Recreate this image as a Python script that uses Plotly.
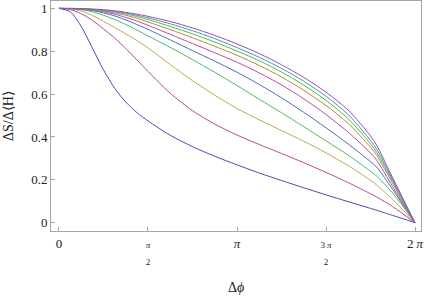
import plotly.graph_objects as go

# Δϕ sample positions (radians)
x_dphi = [0.000, 0.196, 0.393, 0.589, 0.785, 0.982, 1.178, 1.374, 1.571, 1.963, 2.356,
          2.749, 3.142, 3.534, 3.927, 4.320, 4.712, 5.105, 5.498, 5.606, 5.890, 6.283]

# ΔS/Δ<H> for ten curves (bottom to top)
y_c1 = [1.000, 0.985, 0.915, 0.815, 0.713, 0.628, 0.563, 0.514, 0.475, 0.408, 0.355,
        0.310, 0.270, 0.232, 0.197, 0.163, 0.130, 0.098, 0.067, 0.058, 0.034, 0.000]
y_c2 = [1.000, 0.995, 0.975, 0.944, 0.904, 0.862, 0.813, 0.760, 0.706, 0.604, 0.523,
        0.460, 0.409, 0.365, 0.323, 0.280, 0.235, 0.187, 0.135, 0.120, 0.075, 0.000]
y_c3 = [1.000, 0.998, 0.988, 0.967, 0.940, 0.911, 0.881, 0.850, 0.816, 0.738, 0.663,
        0.595, 0.533, 0.480, 0.430, 0.380, 0.326, 0.266, 0.198, 0.176, 0.108, 0.000]
y_c4 = [1.000, 0.999, 0.994, 0.984, 0.968, 0.948, 0.925, 0.899, 0.872, 0.818, 0.761,
        0.702, 0.640, 0.576, 0.513, 0.448, 0.382, 0.315, 0.240, 0.218, 0.138, 0.000]
y_c5 = [1.000, 0.999, 0.996, 0.990, 0.979, 0.965, 0.946, 0.925, 0.902, 0.853, 0.803,
        0.754, 0.702, 0.645, 0.583, 0.515, 0.443, 0.367, 0.285, 0.260, 0.155, 0.000]
y_c6 = [1.000, 0.999, 0.997, 0.992, 0.984, 0.973, 0.958, 0.941, 0.921, 0.879, 0.836,
        0.793, 0.749, 0.699, 0.643, 0.578, 0.505, 0.422, 0.325, 0.292, 0.168, 0.000]
y_c7 = [1.000, 0.999, 0.998, 0.994, 0.988, 0.979, 0.968, 0.954, 0.937, 0.901, 0.863,
        0.823, 0.781, 0.734, 0.680, 0.618, 0.547, 0.463, 0.352, 0.315, 0.183, 0.000]
y_c8 = [1.000, 0.999, 0.998, 0.995, 0.990, 0.983, 0.974, 0.962, 0.948, 0.916, 0.881,
        0.843, 0.801, 0.756, 0.703, 0.642, 0.571, 0.485, 0.368, 0.329, 0.192, 0.000]
y_c9 = [1.000, 1.000, 0.999, 0.996, 0.992, 0.986, 0.978, 0.968, 0.956, 0.928, 0.896,
        0.859, 0.817, 0.772, 0.720, 0.660, 0.590, 0.504, 0.384, 0.344, 0.200, 0.000]
y_c10 = [1.000, 1.000, 0.999, 0.997, 0.994, 0.989, 0.982, 0.973, 0.963, 0.939, 0.909,
         0.874, 0.834, 0.789, 0.737, 0.678, 0.609, 0.525, 0.405, 0.362, 0.209, 0.000]

series = [y_c1, y_c2, y_c3, y_c4, y_c5, y_c6, y_c7, y_c8, y_c9, y_c10]
colors = ["rgb(76,74,186)", "rgb(186,74,138)", "rgb(186,170,74)", "rgb(74,186,104)",
          "rgb(74,110,186)", "rgb(186,74,175)", "rgb(186,132,74)", "rgb(82,186,74)",
          "rgb(74,147,186)", "rgb(160,74,186)"]

x_tick_vals = [0, 1.5707963, 3.1415927, 4.712389, 6.2831853]
x_tick_text = ["0",
               "<span style='font-size:9px'><i>π</i><br>2</span>",
               "<i>π</i>",
               "<span style='font-size:9px'>3 <i>π</i><br>2</span>",
               "2 <i>π</i>"]
y_tick_vals = [0, 0.2, 0.4, 0.6, 0.8, 1.0]
y_tick_text = ["0", "0.2", "0.4", "0.6", "0.8", "1"]

fig = go.Figure()
for ys, c in zip(series, colors):
    fig.add_trace(go.Scatter(x=x_dphi, y=ys, mode="lines",
                             line=dict(color=c, width=1, shape="spline", smoothing=0.8),
                             hoverinfo="skip"))

font = dict(family="Liberation Serif, Times New Roman, serif", size=13, color="#222")
axis_common = dict(showline=True, linecolor="#a6a6a6", linewidth=1, mirror=True,
                   ticks="inside", ticklen=4, tickcolor="#a6a6a6", tickwidth=1,
                   showgrid=False, zeroline=False, tickfont=font)

fig.update_xaxes(range=[-0.141, 6.389], tickvals=x_tick_vals, ticktext=x_tick_text, **axis_common)
fig.update_yaxes(range=[-0.0387, 1.0345], tickvals=y_tick_vals, ticktext=y_tick_text, **axis_common)

fig.update_layout(
    width=425, height=298,
    margin=dict(l=51, r=4, t=1, b=67),
    plot_bgcolor="white", paper_bgcolor="white",
    showlegend=False,
    annotations=[
        dict(text="Δ<i>ϕ</i>", xref="paper", yref="paper", x=0.5, y=0,
             xanchor="center", yanchor="middle", yshift=-56, showarrow=False,
             font=dict(family="Liberation Serif, serif", size=14, color="#222")),
        dict(text="ΔS/Δ⟨H⟩", xref="paper", yref="paper", x=0, y=0.5,
             xanchor="center", yanchor="middle", xshift=-43, textangle=-90, showarrow=False,
             font=dict(family="Liberation Serif, serif", size=14, color="#222")),
    ],
)

fig.write_html("out.html")
